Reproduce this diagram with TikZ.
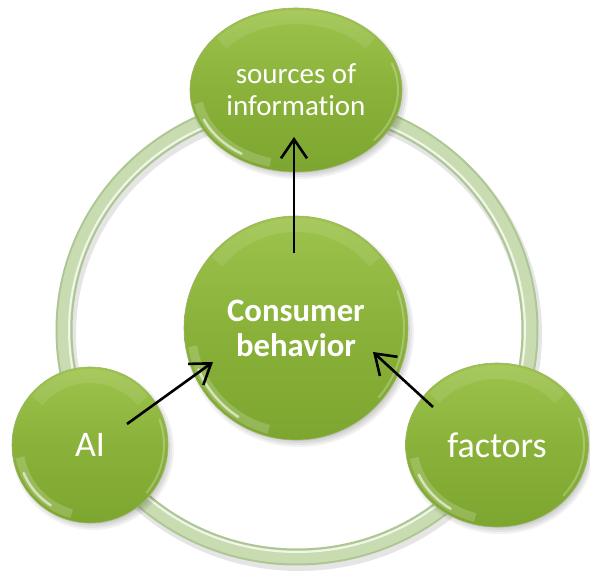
\documentclass[tikz,border=0pt]{standalone}
\usepackage{fontspec}
\setmainfont{Carlito}[Ligatures=CommonOff]
\usetikzlibrary{arrows.meta,shapes.geometric,calc}
\definecolor{gmid}{HTML}{8AB23A}
\definecolor{gtop}{HTML}{9DC34C}
\definecolor{gbot}{HTML}{7DA630}
\definecolor{gedge}{HTML}{6F9626}
\definecolor{ringc}{HTML}{C9DCB1}
\definecolor{ringe}{HTML}{ADC693}
\pgfdeclarelayer{back}
\pgfdeclarelayer{bg}
\pgfsetlayers{back,bg,main}
\tikzset{
  ball/.style={ellipse, inner sep=0pt, top color=gtop, bottom color=gbot, middle color=gmid,
    draw=gedge!70, line width=0.6pt, text=white, align=center},
  arr/.style={line width=2.6pt, -{Straight Barb[length=19pt,width=26pt,line width=2.6pt]}},
}
\newcommand\glarenode[3]{%
  \draw[white, opacity=.10, line width=14pt] ($(#1.center)+({(#2-9)*cos(40)},{(#3-9)*sin(40)})$)
     arc[start angle=40, end angle=140, x radius=#2-9, y radius=#3-9];
  \draw[white, opacity=.18, line width=9pt] ($(#1.center)+({(#2-7)*cos(190)},{(#3-7)*sin(190)})$)
     arc[start angle=190, end angle=255, x radius=#2-7, y radius=#3-7];
  \draw[white, opacity=.6, line width=2.5pt, line cap=round] ($(#1.center)+({(#2-6)*cos(203)},{(#3-6)*sin(203)})$)
     arc[start angle=203, end angle=237, x radius=#2-6, y radius=#3-6];
  \draw[white, opacity=.25, line width=2pt, line cap=round] ($(#1.center)+({(#2-4)*cos(-40)},{(#3-4)*sin(-40)})$)
     arc[start angle=-40, end angle=20, x radius=#2-4, y radius=#3-4];
}
\newcommand\shadownode[3]{%
  \foreach \k in {0,2,4,6}{%
    \fill[black, opacity=0.05] ($(#1.center)+(3,-4)$) ellipse [x radius=#2+\k-3, y radius=#3+\k-3];}%
}
\begin{document}
\begin{tikzpicture}[x=1pt,y=1pt]
  \begin{pgfonlayer}{back}
    \fill[white] (0,0) rectangle (590,572);
  \end{pgfonlayer}
  \useasboundingbox (0,0) rectangle (590,572);

  % nodes
  \node[ball, minimum width=212pt, minimum height=164pt, font=\fontsize{29}{32}\selectfont]
     (src) at (296,482) {sources of\\information};
  \node[ball, minimum width=156pt, minimum height=156pt, font=\fontsize{36}{40}\selectfont]
     (ai) at (90,127) {AI};
  \node[ball, minimum width=183pt, minimum height=164pt, font=\fontsize{36}{40}\selectfont]
     (fac) at (497,127) {factors};
  \node[ball, minimum width=224pt, minimum height=224pt, font=\bfseries\fontsize{32.7}{35}\selectfont]
     (cb) at (296,244) {Consumer\\behavior};

  \glarenode{src}{106}{82}
  \glarenode{ai}{78}{78}
  \glarenode{fac}{91}{82}
  \glarenode{cb}{112}{112}

  % ring and shadows behind
  \begin{pgfonlayer}{bg}
    \coordinate (rc) at (297,242);
    \draw[black, opacity=.10, line width=20pt] ($(rc)+(2,-4)$) ellipse [x radius=233, y radius=227];
    \draw[ringe, line width=17pt] (rc) ellipse [x radius=233, y radius=227];
    \draw[ringc, line width=13pt] (rc) ellipse [x radius=233, y radius=227];
    \draw[white, opacity=.75, line width=2pt] (rc) ellipse [x radius=228, y radius=222];
    \shadownode{src}{106}{82}
    \shadownode{ai}{78}{78}
    \shadownode{fac}{91}{82}
    \shadownode{cb}{112}{112}
  \end{pgfonlayer}

  % connectors
  \coordinate (a1s) at ($(cb.center)+(-2,75)$);
  \coordinate (a1e) at ($(src.center)+(-2,-47)$);
  \coordinate (a2s) at ($(ai.center)+(37,21)$);
  \coordinate (a2e) at ($(cb.center)+(-83,-34)$);
  \coordinate (a3s) at ($(fac.center)+(-64,38)$);
  \coordinate (a3e) at ($(cb.center)+(77,-24)$);
  \draw[arr] (a1s) -- (a1e);
  \draw[arr] (a2s) -- (a2e);
  \draw[arr] (a3s) -- (a3e);
\end{tikzpicture}
\end{document}
